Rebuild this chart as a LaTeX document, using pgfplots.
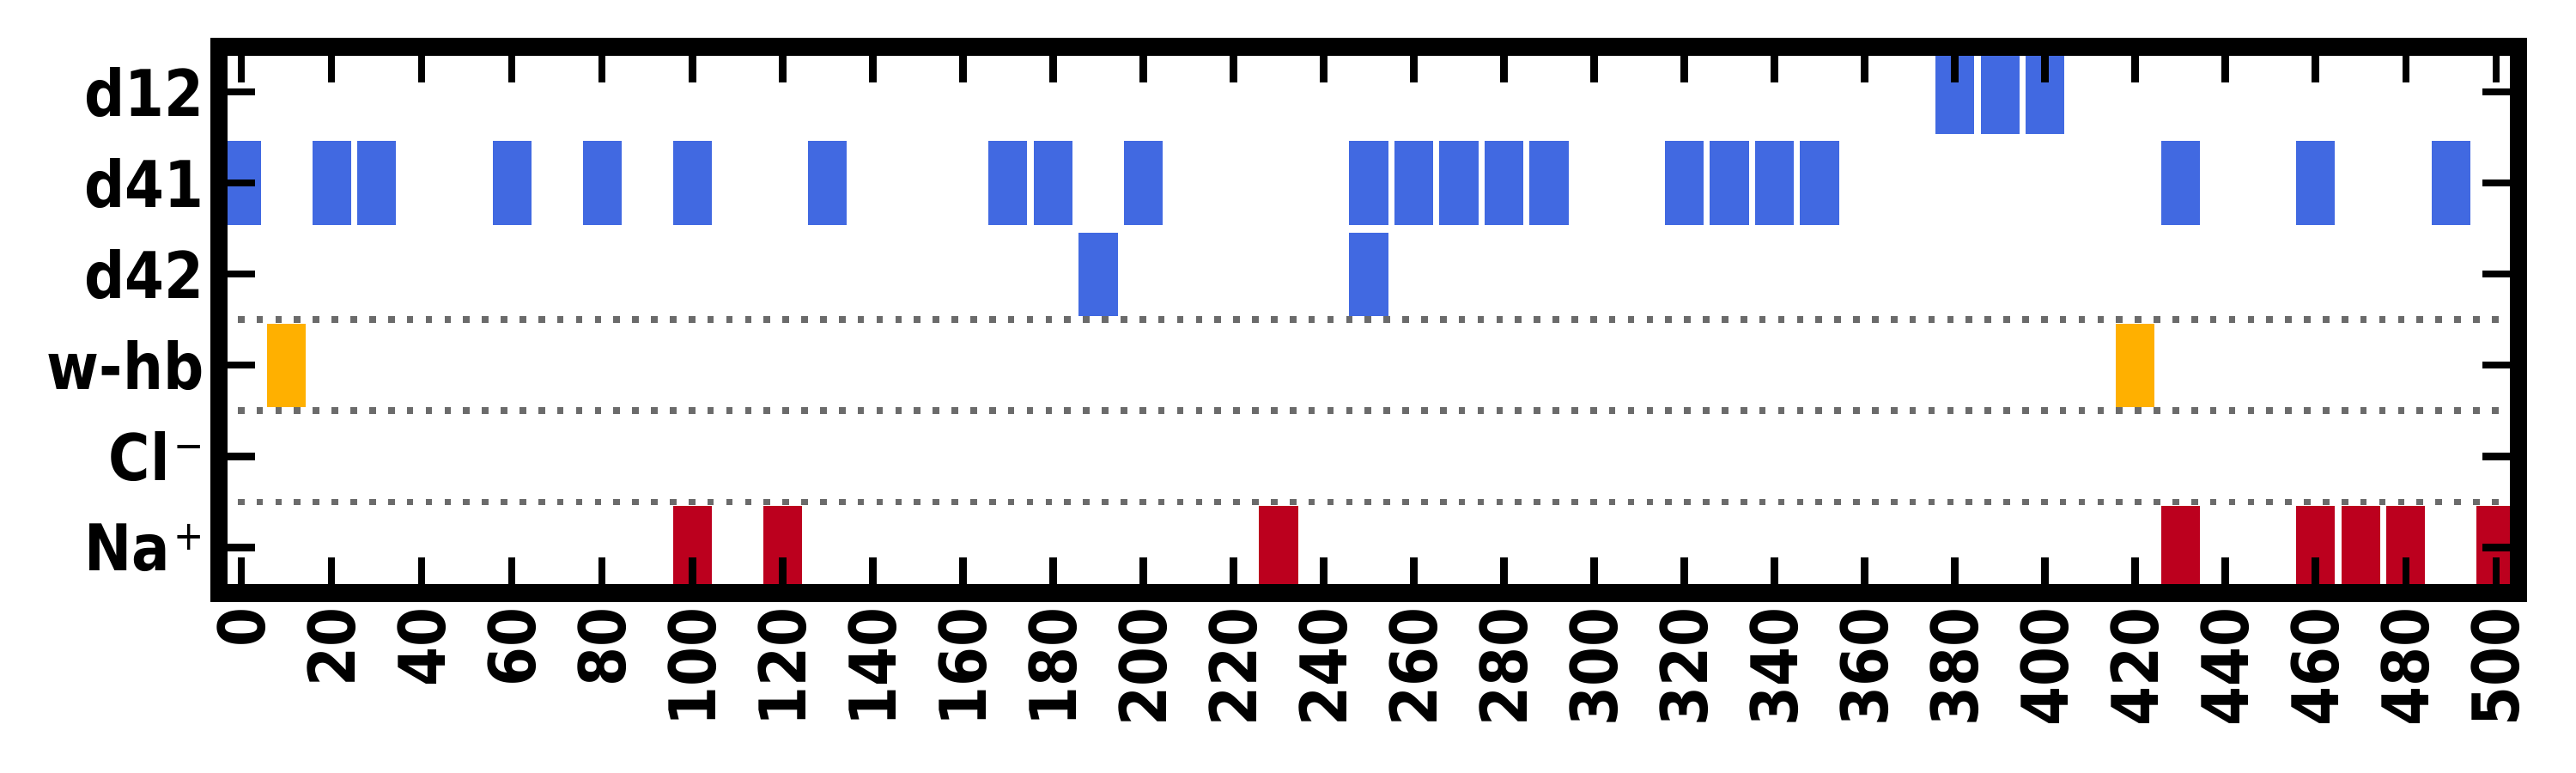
\documentclass[border=0pt]{standalone}
\usepackage{pgfplots}
\pgfplotsset{compat=1.18}
\usepackage{fontspec}
\setmainfont{DejaVu Sans}
\newfontfamily\tickfont{DejaVu Sans}[FakeStretch=0.88]
\definecolor{barblue}{HTML}{4169E1}
\definecolor{barorange}{HTML}{FFB000}
\definecolor{barred}{HTML}{BC001E}
\definecolor{sepgray}{HTML}{6B6B6B}
\newcommand{\supr}[1]{\kern1pt\raisebox{5.8pt}{\fontsize{11.5}{11.5}\selectfont\mdseries #1}}
\begin{document}
\begin{tikzpicture}
\begin{axis}[
  scale only axis, width=642.7pt, height=152.7pt,
  xmin=-5, xmax=505, ymin=-0.5, ymax=5.5,
  xtick={0,20,...,500},
  ytick={0,1,2,3,4,5},
  yticklabels={Na\supr{+}, Cl\supr{−}, w-hb, d42, d41, d12},
  axis on top,
  axis line style={line width=5pt},
  tick style={line width=2pt, black},
  major tick length=10pt,
  tick align=inside,
  tick label style={font=\tickfont\fontsize{18}{18}\selectfont\bfseries},
  /pgf/number format/assume math mode=true,
  xticklabel style={rotate=90, anchor=east, inner xsep=4pt},
  yticklabel style={inner xsep=4pt},
]
% separators
\addplot[sepgray, line width=1.85pt, dash pattern=on 1.85pt off 3.4pt] coordinates {(-5,2.5) (505,2.5)};
\addplot[sepgray, line width=1.85pt, dash pattern=on 1.85pt off 3.4pt] coordinates {(-5,1.5) (505,1.5)};
\addplot[sepgray, line width=1.85pt, dash pattern=on 1.85pt off 3.4pt] coordinates {(-5,0.5) (505,0.5)};
% d12, d41, d42 (blue)
\addplot[draw=none, mark=none, error bars/.cd, y dir=both, y fixed=0.46, error mark=none,
  error bar style={line width=10.84pt, barblue}] coordinates {
  (380,5) (390,5) (400,5)
  (0,4) (20,4) (30,4) (60,4) (80,4) (100,4) (130,4) (170,4) (180,4) (200,4)
  (250,4) (260,4) (270,4) (280,4) (290,4) (320,4) (330,4) (340,4) (350,4)
  (430,4) (460,4) (490,4)
  (190,3) (250,3)
};
% w-hb (orange)
\addplot[draw=none, mark=none, error bars/.cd, y dir=both, y fixed=0.46, error mark=none,
  error bar style={line width=10.84pt, barorange}] coordinates {
  (10,2) (420,2)
};
% Na+ (red)
\addplot[draw=none, mark=none, error bars/.cd, y dir=both, y fixed=0.46, error mark=none,
  error bar style={line width=10.84pt, barred}] coordinates {
  (100,0) (120,0) (230,0) (430,0) (460,0) (470,0) (480,0) (500,0)
};
\end{axis}
\path (-61.2pt,-50.3pt) rectangle (658.8pt,165.7pt);
\end{tikzpicture}
\end{document}
